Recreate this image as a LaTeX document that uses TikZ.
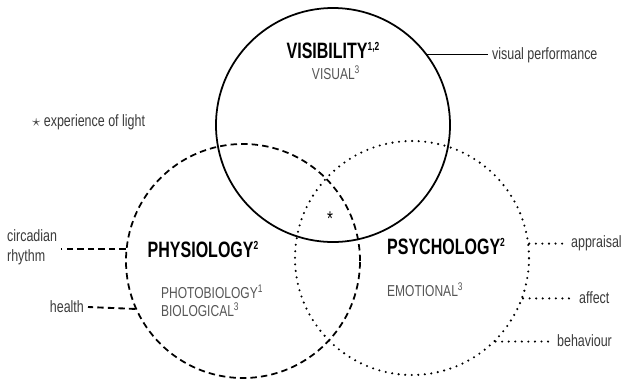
\documentclass[tikz,border=0pt]{standalone}
\usepackage{fontspec}
\setmainfont{Liberation Sans}[FakeStretch=0.76]
\newfontfamily\headfont{Liberation Sans}[FakeStretch=0.72]
\definecolor{labelgray}{HTML}{3A3A3A}
\definecolor{subgray}{HTML}{555555}
\newcommand{\hsup}[1]{\raisebox{0.36em}{\fontsize{10}{10}\selectfont #1}}

\begin{document}
\begin{tikzpicture}[x=0.03cm,y=-0.03cm,
	ring/.style={circle,draw,minimum size=7.02cm,inner sep=0pt,line width=1.5pt},
	dashring/.style={ring,dash pattern=on 5.5pt off 3.5pt},
	dotring/.style={ring,line width=2pt,dash pattern=on 0pt off 5.6pt,line cap=round},
	dashlink/.style={line width=1.6pt,dash pattern=on 5.5pt off 3.5pt},
	dotlink/.style={line width=2pt,dash pattern=on 0pt off 5.6pt,line cap=round},
	title/.style={font=\headfont\bfseries\fontsize{19}{21}\selectfont},
	sub/.style={text=subgray,font=\fontsize{13.5}{15.5}\selectfont,align=left},
	note/.style={text=labelgray,font=\fontsize{14}{17}\selectfont,align=left}]
		\useasboundingbox (0,0) rectangle (633,380);
		% the three circles
		\node[ring] (vis) at (333,125) {};
		\node[dashring] (physio) at (243,261) {};
		\node[dotring] (psych) at (412,258) {};
		% texts in the circles
		\node[title] (vistitle) at (333,51) {VISIBILITY\hsup{1,2}};
		\node[sub] (vissub) at (336,73) {VISUAL\textsuperscript{3}};
		\node[title] (phytitle) at (203,250) {PHYSIOLOGY\hsup{2}};
		\node[sub,anchor=west] (physub) at (157,301) {PHOTOBIOLOGY\textsuperscript{1}\\BIOLOGICAL\textsuperscript{3}};
		\node[title,anchor=west] (psytitle) at (383,247) {PSYCHOLOGY\hsup{2}};
		\node[sub,anchor=west] (psysub) at (383,290) {EMOTIONAL\textsuperscript{3}};
		\node[font=\fontsize{17}{17}\selectfont] (star) at (330,219) {*};
		\node[note,anchor=west] (legend) at (28,122) {$\star$ experience of light};
		% outer labels
		\node[note,anchor=west] (vp) at (488,55) {visual performance};
		\node[note,anchor=west] (rhythm) at (3,247) {circadian\\rhythm};
		\node[note,anchor=east] (health) at (88,307) {health};
		\node[note,anchor=west] (appraisal) at (567,243) {appraisal};
		\node[note,anchor=west] (affect) at (575,298) {affect};
		\node[note,anchor=west] (behaviour) at (553,341) {behaviour};
		% connectors
		\draw[line width=0.8pt] (vis.37) -- (vis.37 -| vp.west);
		\draw[dashlink] (physio.174) -- (physio.174 -| rhythm.east);
		\draw[dashlink] (physio.204) -- (health.east);
		\draw[dotlink] (psych.7) -- (psych.7 -| appraisal.west);
		\draw[dotlink] (psych.-20) -- (psych.-20 -| affect.west);
		\draw[dotlink] (psych.-45) -- (psych.-45 -| behaviour.west);
\end{tikzpicture}
\end{document}
